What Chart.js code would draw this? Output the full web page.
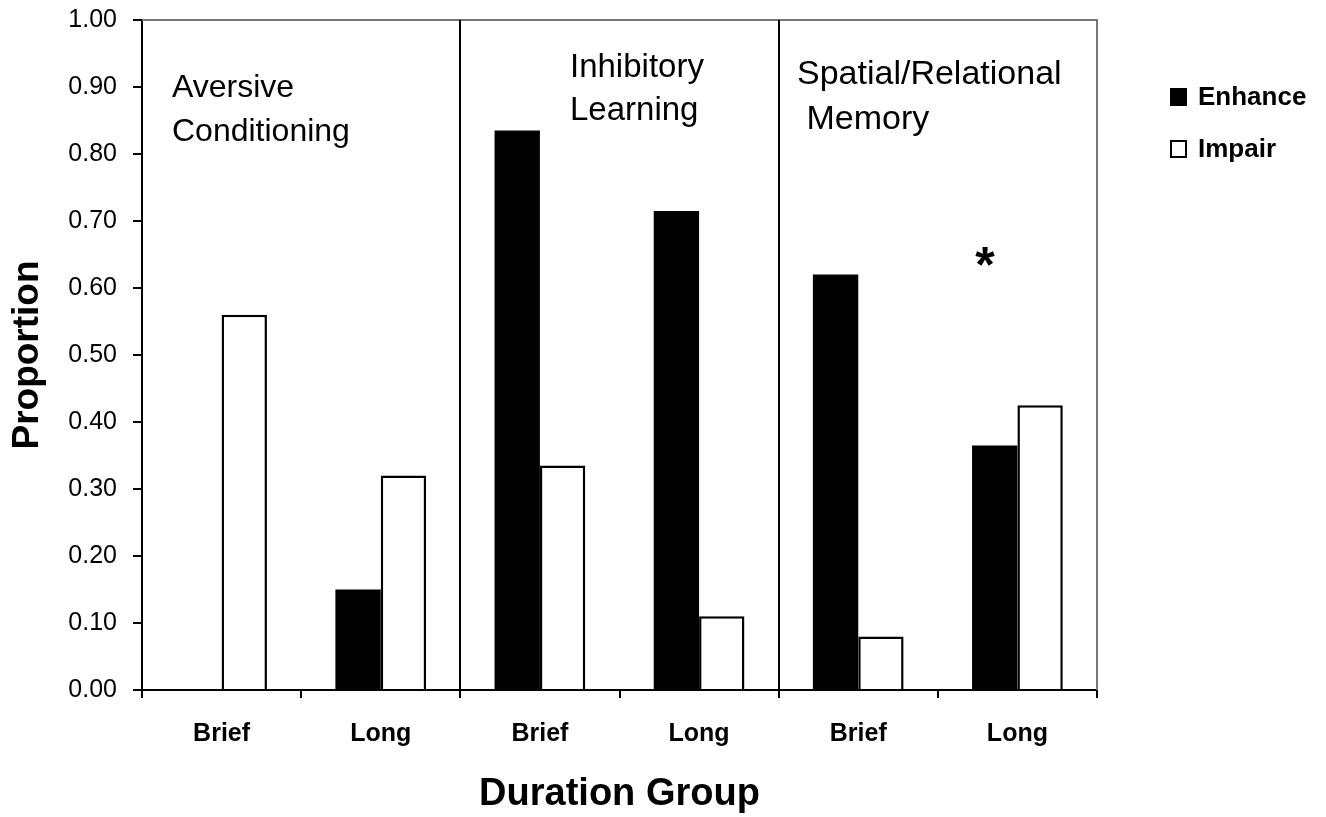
<!DOCTYPE html>
<html>
<head>
<meta charset="utf-8">
<script src="https://cdn.jsdelivr.net/npm/chart.js@4/dist/chart.umd.min.js"></script>
<style>
  html, body { margin: 0; padding: 0; background: #fff; }
  #wrap { width: 1326px; height: 817px; }
</style>
</head>
<body>
<div id="wrap"><canvas id="c" width="1326" height="817"></canvas></div>
<script>
// Duration groups within each task family
const categories = ['Brief', 'Long', 'Brief', 'Long', 'Brief', 'Long'];
const enhance = [0.00, 0.15, 0.835, 0.715, 0.62, 0.365];
const impair  = [0.56, 0.32, 0.335, 0.11, 0.08, 0.425];
const yTicks = [0, 0.1, 0.2, 0.3, 0.4, 0.5, 0.6, 0.7, 0.8, 0.9, 1.0];
const panelTitles = [
  ['Aversive', 'Conditioning'],
  ['Inhibitory', 'Learning'],
  ['Spatial/Relational', ' Memory']
];
const seriesNames = ['Enhance', 'Impair'];

const FONT = "'Liberation Sans', Arial, sans-serif";

// Frame, panel dividers, panel titles, significance mark and legend
const decorations = {
  id: 'decorations',
  afterDatasetsDraw(chart) {
    const { ctx, chartArea: a, scales: { x } } = chart;
    ctx.save();
    // top / right frame
    ctx.strokeStyle = '#777';
    ctx.lineWidth = 2;
    ctx.beginPath();
    ctx.moveTo(a.left, a.top);
    ctx.lineTo(a.right, a.top);
    ctx.lineTo(a.right, a.bottom);
    ctx.stroke();

    // dividers between the three task families
    ctx.strokeStyle = '#000';
    ctx.lineWidth = 2;
    [1, 3].forEach(i => {
      const px = Math.round((x.getPixelForValue(i) + x.getPixelForValue(i + 1)) / 2);
      ctx.beginPath();
      ctx.moveTo(px, a.top);
      ctx.lineTo(px, a.bottom);
      ctx.stroke();
    });

    // panel titles
    ctx.fillStyle = '#000';
    ctx.textAlign = 'left';
    ctx.textBaseline = 'middle';
    const titlePos = [[172, 88, 44, 32], [570, 68, 43, 33], [797, 75, 45, 34]];
    panelTitles.forEach((lines, k) => {
      const [tx, ty, lh, fs] = titlePos[k];
      ctx.font = fs + 'px ' + FONT;
      lines.forEach((t, j) => ctx.fillText(t, tx, ty + j * lh));
    });

    // significance mark
    ctx.font = 'bold 50px ' + FONT;
    ctx.textAlign = 'center';
    ctx.fillText('*', 985, 268);

    // legend
    ctx.font = 'bold 26px ' + FONT;
    ctx.textAlign = 'left';
    const items = [
      { y: 97, fill: '#000' },
      { y: 149, fill: '#fff' }
    ];
    items.forEach((it, k) => {
      ctx.fillStyle = it.fill;
      ctx.fillRect(1170, it.y - 9, 17, 18);
      ctx.strokeStyle = '#000';
      ctx.lineWidth = 2;
      ctx.strokeRect(1171, it.y - 8, 15, 16);
      ctx.fillStyle = '#000';
      ctx.fillText(seriesNames[k], 1198, it.y + 1);
    });
    ctx.restore();
  }
};

new Chart(document.getElementById('c'), {
  type: 'bar',
  data: {
    labels: categories,
    datasets: [
      {
        label: seriesNames[0],
        data: enhance,
        backgroundColor: '#000',
        borderColor: '#000',
        borderWidth: 0
      },
      {
        label: seriesNames[1],
        data: impair,
        backgroundColor: '#fff',
        borderColor: '#000',
        borderWidth: 2.5
      }
    ]
  },
  options: {
    responsive: false,
    animation: false,
    devicePixelRatio: 1,
    layout: { padding: { top: 20, right: 229, left: 0, bottom: 0 } },
    datasets: { bar: { barPercentage: 1.0, categoryPercentage: 0.57 } },
    plugins: {
      legend: { display: false },
      tooltip: { enabled: false }
    },
    scales: {
      x: {
        grid: {
          offset: true,
          drawOnChartArea: false,
          drawTicks: true,
          tickLength: 8,
          color: '#000',
          lineWidth: 2
        },
        border: { color: '#000', width: 2 },
        ticks: {
          color: '#000',
          padding: 21,
          font: { family: FONT, size: 25, weight: 'bold' }
        },
        title: {
          display: true,
          text: 'Duration Group',
          color: '#000',
          padding: { top: 0, bottom: 0 },
          font: { family: FONT, size: 38, weight: 'bold' }
        },
        afterFit(s) { s.height = 127; s.paddingLeft = 0; s.paddingRight = 0; }
      },
      y: {
        min: 0,
        max: 1,
        afterBuildTicks(s) { s.ticks = yTicks.map(v => ({ value: v })); },
        grid: {
          drawOnChartArea: false,
          drawTicks: true,
          tickLength: 9,
          color: '#000',
          lineWidth: 2
        },
        border: { color: '#000', width: 2 },
        ticks: {
          color: '#000',
          padding: 16,
          font: { family: FONT, size: 25 },
          callback: v => Number(v).toFixed(2)
        },
        title: {
          display: true,
          text: 'Proportion',
          color: '#000',
          padding: { top: 6, bottom: 0 },
          font: { family: FONT, size: 37, weight: 'bold' }
        },
        afterFit(s) { s.width = 142; s.paddingTop = 0; s.paddingBottom = 0; }
      }
    }
  },
  plugins: [decorations]
});
</script>
</body>
</html>
